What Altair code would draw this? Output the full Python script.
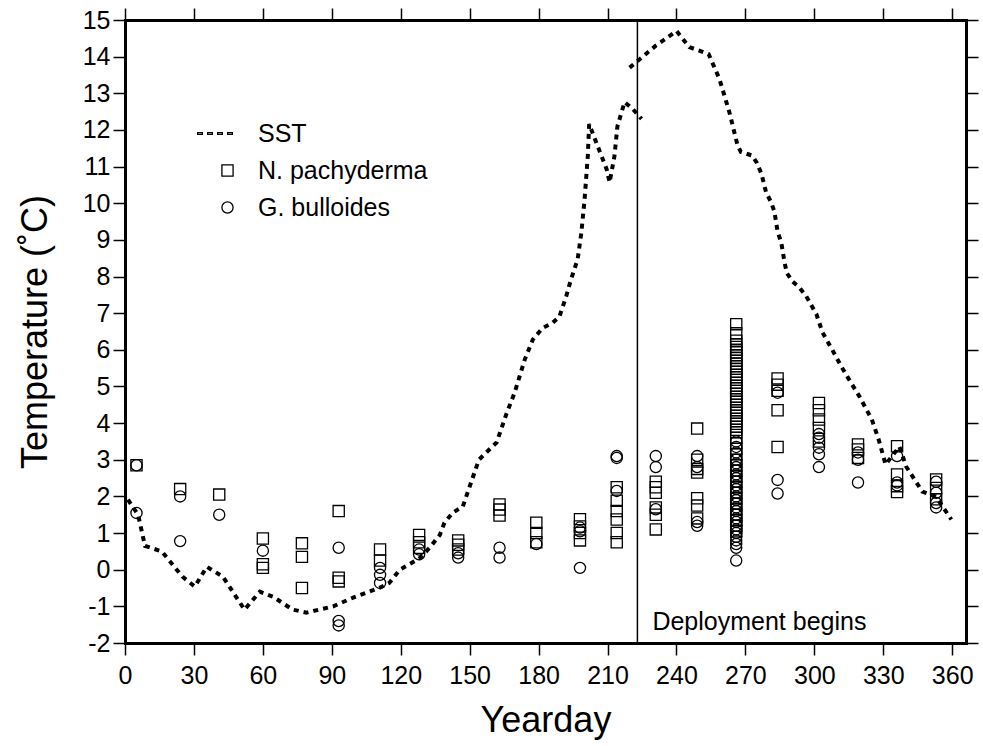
import altair as alt
import pandas as pd

# ---------------- data ----------------
# SST, first stretch (before deployment)
sst1_day = [1.3, 5.7, 8.7, 16, 25, 30.4, 35.6, 42.6, 52, 58.7, 64.5, 73, 79, 90.6, 99,
            110.9, 115, 119.6, 128, 132.6, 137, 139, 142.7, 147, 150, 154, 161.7, 166,
            169.6, 171.7, 174, 177.5, 181.8, 186, 189, 192, 194, 197, 198.6, 200, 201.4,
            202, 205.7, 209.6, 210.9, 213, 214.3, 217.4, 221, 224.8]
sst1_temp = [1.91, 1.5, 0.65, 0.5, -0.19, -0.46, 0.08, -0.19, -1.09, -0.6, -0.74, -1.09,
             -1.17, -1.0, -0.77, -0.49, -0.36, 0.0, 0.3, 0.6, 0.95, 1.28, 1.56, 1.72, 2.27,
             3.0, 3.47, 4.25, 4.84, 5.27, 5.74, 6.28, 6.6, 6.73, 6.9, 7.46, 7.9, 8.47, 9.2,
             10.1, 11.28, 12.16, 11.56, 10.93, 10.57, 11.28, 12.1, 12.76, 12.57, 12.3]
# SST, second stretch (after deployment)
sst2_day = [219.6, 224, 231, 240, 245.6, 254, 258.7, 263, 266.5, 268, 273, 275, 277, 279,
            281, 282.6, 284, 285.6, 287, 288, 290.4, 293.5, 296.5, 300.9, 303.5, 307.8,
            311.7, 315, 319.6, 325, 328, 331, 337, 340, 347, 353, 359.6]
sst2_temp = [13.7, 13.93, 14.3, 14.7, 14.26, 14.07, 13.39, 12.49, 11.6, 11.4, 11.3, 11.1,
             10.8, 10.3, 10.05, 9.78, 9.23, 8.93, 8.4, 8.1, 7.87, 7.7, 7.46, 6.97, 6.48,
             6.0, 5.55, 5.2, 4.73, 4.1, 3.55, 2.87, 3.36, 2.81, 2.13, 1.99, 1.37]

# N. pachyderma (squares): sampling day and temperatures at that day
np_days = [5, 24, 41, 60, 77, 93, 111, 128, 145, 163, 179, 198, 214, 231, 249, 266,
           284, 302, 319, 336, 353]
np_temps = [
    [2.85],
    [2.2],
    [2.05],
    [0.85, 0.15, 0.05],
    [0.72, 0.35, -0.5],
    [1.6, -0.22, -0.32],
    [0.55, 0.25],
    [0.95, 0.75, 0.6],
    [0.8, 0.68, 0.55],
    [1.78, 1.64, 1.48],
    [1.28, 1.0, 0.75],
    [1.38, 1.18, 1.0, 0.8],
    [2.25, 1.88, 1.6, 1.37, 1.0, 0.75],
    [2.4, 2.25, 2.1, 1.7, 1.5, 1.1],
    [3.85, 3.0, 2.75, 2.65, 1.95, 1.75, 1.4],
    [6.7, 6.45, 6.25, 6.15, 6.08, 6.0, 5.93, 5.85, 5.78, 5.7, 5.62, 5.55, 5.48, 5.4,
     5.32, 5.25, 5.18, 5.1, 5.02, 4.95, 4.88, 4.8, 4.72, 4.65, 4.58, 4.5, 4.42, 4.35,
     4.28, 4.2, 4.12, 4.05, 3.98, 3.9, 3.82, 3.75, 3.6, 3.45, 3.3, 3.15, 3.0, 2.85,
     2.7, 2.55, 2.4, 2.25, 2.1, 1.95, 1.8, 1.65, 1.5, 1.35, 1.2, 1.05],
    [5.22, 5.05, 4.88, 4.35, 3.35],
    [4.55, 4.35, 4.1, 3.87, 3.5],
    [3.42, 3.28, 3.05],
    [3.37, 2.6, 2.28, 2.12],
    [2.46, 2.23, 1.92],
]

# G. bulloides (circles)
gb_days = [5, 24, 41, 60, 93, 111, 128, 145, 163, 179, 198, 214, 231, 249, 266, 284,
           302, 319, 336, 353]
gb_temps = [
    [2.85, 1.55],
    [2.0, 0.78],
    [1.5],
    [0.52],
    [0.6, -1.4, -1.52],
    [0.05, -0.14, -0.36],
    [0.55, 0.42],
    [0.45, 0.33],
    [0.6, 0.33],
    [0.7],
    [1.15, 1.05, 0.05],
    [3.1, 3.05, 2.15],
    [3.1, 2.8, 1.65],
    [3.1, 2.8, 1.3, 1.2],
    [3.5, 3.35, 3.2, 3.0, 2.9, 2.8, 2.7, 2.6, 2.5, 2.4, 2.3, 2.2, 2.1, 2.0, 1.9, 1.8,
     1.7, 1.6, 1.5, 1.4, 1.3, 1.2, 1.1, 1.0, 0.9, 0.8, 0.7, 0.6, 0.25],
    [4.83, 2.45, 2.08],
    [3.7, 3.6, 3.33, 3.15, 2.8],
    [3.2, 3.0, 2.38],
    [3.1, 2.38, 2.3],
    [2.4, 2.1, 1.82, 1.7],
]

deploy_day = [223]
deploy_label = ["Deployment begins"]

x_ticks = [0, 30, 60, 90, 120, 150, 180, 210, 240, 270, 300, 330, 360]
y_ticks = list(range(-2, 16))
species = ["SST", "N. pachyderma", "G. bulloides"]

# ---------------- tables ----------------
rows = []
for i, (d, t) in enumerate(zip(sst1_day, sst1_temp)):
    rows.append({"day": d, "temp": t, "seg": "a", "idx": i})
for i, (d, t) in enumerate(zip(sst2_day, sst2_temp)):
    rows.append({"day": d, "temp": t, "seg": "b", "idx": i})
sst_df = pd.DataFrame(rows)

prow = []
for d, ts in zip(np_days, np_temps):
    for t in ts:
        prow.append({"day": d, "temp": t, "species": "N. pachyderma"})
for d, ts in zip(gb_days, gb_temps):
    for t in ts:
        prow.append({"day": d, "temp": t, "species": "G. bulloides"})
pts_df = pd.DataFrame(prow)

dep_df = pd.DataFrame({"day": deploy_day, "label": deploy_label})

FONT = "Liberation Sans"
xscale = alt.Scale(domain=[0, 366], nice=False, zero=False)
yscale = alt.Scale(domain=[-2, 15], nice=False, zero=False)

common_axis = dict(grid=False, domainColor="black", domainWidth=3, domainCap="square",
                   tickColor="black", tickWidth=1.5, tickSize=12)

bottom_axis = alt.Axis(orient="bottom", values=x_ticks, title="Yearday",
                       labelFont=FONT, labelFontSize=25, labelColor="black",
                       labelPadding=8, labelFlush=False,
                       labelExpr="'' + datum.value",
                       titleFont=FONT, titleFontSize=36, titleFontWeight="normal",
                       titleColor="black", titleX=420.5, titleY=88,
                       titleBaseline="alphabetic", titleAlign="center", **common_axis)
left_axis = alt.Axis(orient="left", values=y_ticks, title="Temperature (˚C)",
                     labelFont=FONT, labelFontSize=25, labelColor="black",
                     labelPadding=3, labelFlush=False,
                     labelExpr="'' + datum.value",
                     titleFont=FONT, titleFontSize=36, titleFontWeight="normal",
                     titleColor="black", titleAngle=270, titleX=-79, titleY=311.5,
                     titleBaseline="alphabetic", titleAlign="center", **common_axis)
top_axis = alt.Axis(orient="top", values=x_ticks, labels=False, title=None,
                    **common_axis)
right_axis = alt.Axis(orient="right", values=y_ticks, labels=False, title=None,
                      **common_axis)

sst_path = ("M-5.34,-0.17H-4.5V0.17H-5.34Z M-3.55,-0.17H-2.71V0.17H-3.55Z "
            "M-1.76,-0.17H-0.92V0.17H-1.76Z M0.03,-0.17H0.87V0.17H0.03Z")

rule = alt.Chart(dep_df).mark_rule(color="black", strokeWidth=1.5).encode(
    x=alt.X("day:Q", scale=xscale, axis=None)
)

line = alt.Chart(sst_df).mark_line(
    color="black", strokeWidth=4, strokeDash=[5, 5], strokeCap="butt"
).encode(
    x=alt.X("day:Q", scale=xscale, axis=top_axis),
    y=alt.Y("temp:Q", scale=yscale, axis=right_axis),
    detail="seg:N",
    order="idx:Q",
)

pts = alt.Chart(pts_df).mark_point(
    filled=False, color="black", strokeWidth=1.3, size=125, opacity=1
).encode(
    x=alt.X("day:Q", scale=xscale, axis=bottom_axis),
    y=alt.Y("temp:Q", scale=yscale, axis=left_axis),
    shape=alt.Shape(
        "species:N",
        scale=alt.Scale(domain=species, range=[sst_path, "square", "circle"]),
        legend=alt.Legend(
            title=None, orient="none", legendX=90, legendY=101, padding=0,
            labelFont=FONT, labelFontSize=25, labelColor="black", labelOffset=18,
            labelLimit=0, rowPadding=11, symbolSize=125, symbolStrokeColor="black",
            symbolFillColor="transparent", symbolStrokeWidth=1.3, symbolOpacity=1,
        ),
    ),
)

txt = alt.Chart(dep_df).mark_text(
    align="left", baseline="alphabetic", dx=15, font=FONT, fontSize=25, color="black"
).encode(
    x=alt.X("day:Q", scale=xscale, axis=None),
    y=alt.value(610),
    text="label:N",
)

chart = alt.layer(rule, line, pts, txt).resolve_axis(
    x="independent", y="independent"
).properties(
    width=841, height=623,
    padding={"left": 125, "top": 20, "right": 17, "bottom": 103},
    autosize=alt.AutoSizeParams(type="none"),
    background="white",
).configure_view(stroke=None)

chart.save("out.html", embed_options={"renderer": "svg", "actions": False})
